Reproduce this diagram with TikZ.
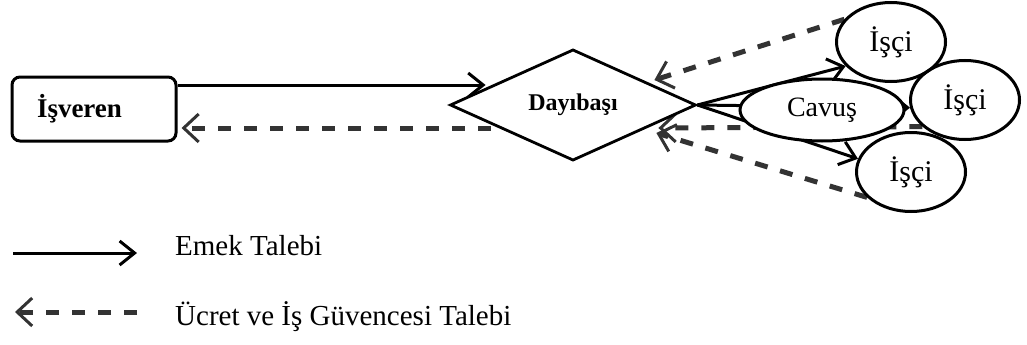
\documentclass[tikz,border=0pt]{standalone}
\usepackage{fontspec}
\setmainfont{Liberation Serif}
\usetikzlibrary{arrows.meta, shapes.geometric, calc, backgrounds}
\tikzset{
    my-employer-box/.style={
        draw, rounded corners=8pt, line width=3pt, fill=white,
        minimum height=64pt, text width=114pt, inner xsep=25pt, align=left,
        font=\fontsize{27}{29}\selectfont\bfseries
    },
    my-diamond/.style={
        shape=diamond, draw, line width=2.8pt, fill=white, inner sep=0pt,
        minimum width=246pt, minimum height=104pt,
        font=\fontsize{24}{26}\selectfont\bfseries
    },
    my-ellipse/.style={
        shape=ellipse, draw, line width=3pt, inner sep=0pt,
        minimum width=109pt, minimum height=79pt,
        font=\fontsize{30}{32}\selectfont
    },
    my-legend-text/.style={
        inner sep=0pt, anchor=base west, font=\fontsize{29}{31}\selectfont
    },
    my-demand/.style={
        line width=3pt, -{Straight Barb[length=15pt, width=24pt, line width=3pt]}
    },
    my-wage/.style={
        line width=5pt, black!80, dash pattern=on 13pt off 13pt,
        -{Straight Barb[length=15pt, width=28pt, line width=3pt]}
    },
}

\begin{document}
\begin{tikzpicture}[x=1pt, y=-1pt]

        \useasboundingbox (0,0) rectangle (1027,345);

        % ACTORS ----------------------------------------------------------------
        \node[my-employer-box] (ISVEREN)  at (94,109)  {İşveren};
        \node[my-diamond]      (DAYIBASI) at (573,105) {Dayıbaşı};
        \node[my-ellipse, fill=white, minimum width=164pt, minimum height=62pt,
              font=\fontsize{28}{30}\selectfont] (CAVUS) at (822,110) {Cavuş};
        \node[my-ellipse]      (ISCI1)    at (891,42)  {İşçi};
        \node[my-ellipse]      (ISCI2)    at (965,100) {İşçi};
        \node[my-ellipse]      (ISCI3)    at (911,172) {İşçi};

        % CONNECTOR POINTS
        \coordinate[] (ISVERENOUT) at ($(ISVEREN.east)  + (0,-24)$);
        \coordinate[] (ISVERENIN)  at ($(ISVEREN.east)  + (4,19)$);
        \coordinate[] (DAYIIN)     at ($(DAYIBASI.west) + (37,-20)$);
        \coordinate[] (DAYIOUT)    at ($(DAYIBASI.west) + (42,23)$);
        \coordinate[] (DAYIIN1)    at ($(DAYIBASI.east) + (-43,-25)$);
        \coordinate[] (DAYIIN2)    at ($(DAYIBASI.east) + (-39,23)$);
        \coordinate[] (DAYIIN3)    at ($(DAYIBASI.east) + (-41,28)$);

        \begin{scope}[on background layer]
            % EMEK TALEBI - SOLID
            \draw[my-demand] (ISVERENOUT)    -- (DAYIIN);
            \draw[my-demand] (DAYIBASI.east) -- (ISCI1.208);
            \draw[my-demand] (DAYIBASI.east) -- (ISCI2.188);
            \draw[my-demand] (DAYIBASI.east) -- (ISCI3.166);

            % UCRET VE IS GUVENCESI TALEBI - DASHED
            \draw[my-wage] (DAYIOUT)   -- (ISVERENIN);
            \draw[my-wage] (ISCI1.154) -- (DAYIIN1);
            \draw[my-wage] (ISCI2.212) -- (DAYIIN2);
            \draw[my-wage] (ISCI3.210) -- (DAYIIN3);
        \end{scope}

        % LEGEND ----------------------------------------------------------------
        \coordinate[] (LEG1START) at (13,253);
        \coordinate[] (LEG1END)   at (137,253);
        \coordinate[] (LEG2START) at (137,312);
        \coordinate[] (LEG2END)   at (15,312);
        \draw[my-demand] (LEG1START) -- (LEG1END);
        \draw[my-wage]   (LEG2START) -- (LEG2END);
        \node[my-legend-text] (EMEK)  at (175,255) {Emek Talebi};
        \node[my-legend-text] (UCRET) at (175,325) {Ücret ve İş Güvencesi Talebi};

\end{tikzpicture}
\end{document}
